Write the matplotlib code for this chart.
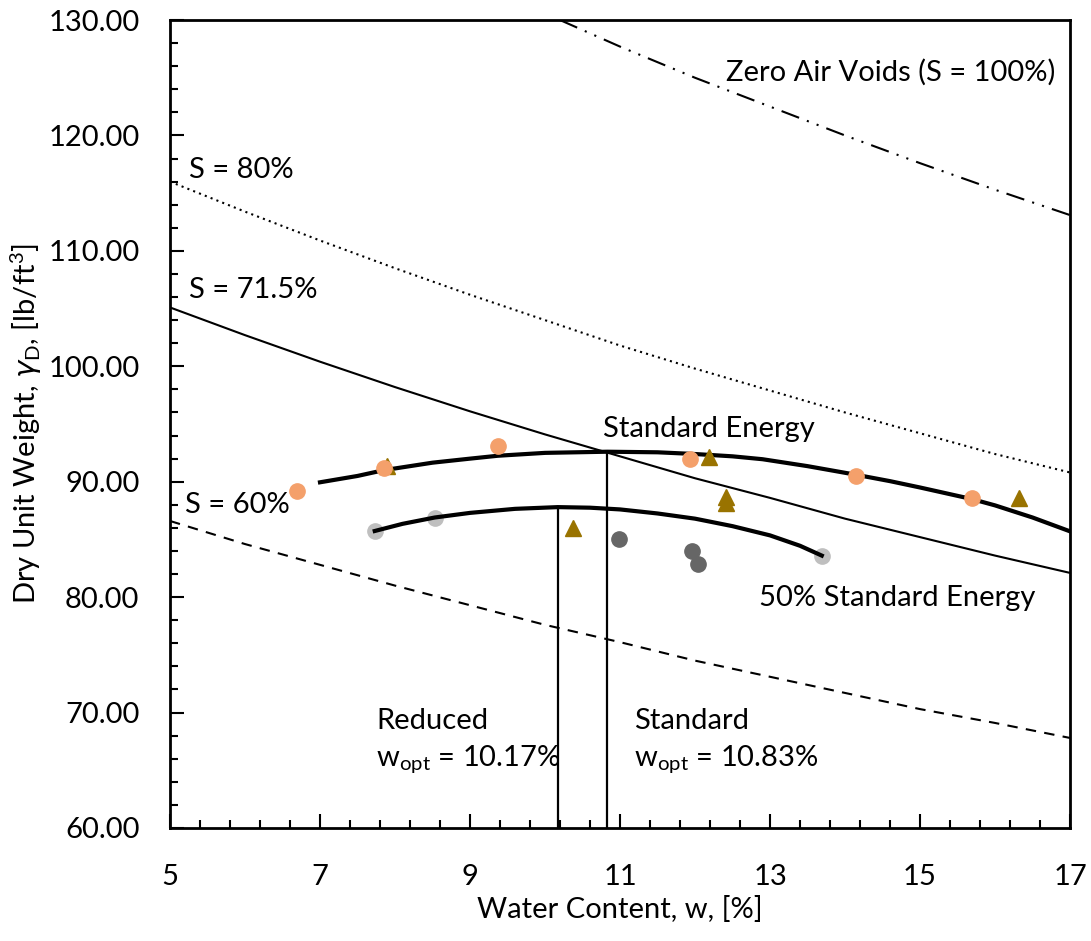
import matplotlib.pyplot as plt
from matplotlib.ticker import MultipleLocator, FormatStrFormatter

plt.rcParams['font.family'] = ['Lato', 'DejaVu Sans']

# measured points
std_w = [6.69, 7.85, 9.37, 11.93, 14.15, 15.69]
std_g = [89.2, 91.2, 93.1, 92.0, 90.5, 88.6]
tri_w = [7.89, 10.37, 12.19, 12.41, 12.41, 16.32]
tri_g = [91.4, 86.0, 92.1, 88.7, 88.2, 88.6]
red_w = [10.99, 11.96, 12.04]
red_g = [85.0, 84.0, 82.9]
red2_w = [7.73, 8.53, 13.69]
red2_g = [85.7, 86.9, 83.6]

# fitted compaction curves
fit_std_w = [7.0, 7.5, 7.85, 8.5, 9.0, 9.37, 10.0, 10.83, 11.5, 12.0, 12.5, 12.9, 13.5, 14.15, 14.6, 15.0, 15.69, 16.0, 16.5, 17.0]
fit_std_g = [89.95, 90.5, 91.0, 91.65, 92.0, 92.25, 92.5, 92.6, 92.55, 92.4, 92.2, 91.95, 91.35, 90.6, 90.05, 89.5, 88.5, 87.95, 86.9, 85.7]
fit_red_w = [7.73, 8.1, 8.53, 9.0, 9.6, 10.17, 10.6, 11.0, 11.5, 12.0, 12.5, 13.0, 13.4, 13.69]
fit_red_g = [85.73, 86.35, 86.9, 87.3, 87.65, 87.8, 87.75, 87.6, 87.25, 86.8, 86.15, 85.35, 84.45, 83.6]

# saturation lines (read at integer water contents)
sat_w = [5, 6, 7, 8, 9, 10, 11, 12, 13, 14, 15, 16, 17]
s80 = [116.0, 113.4, 110.9, 108.5, 106.2, 104.0, 101.8, 99.8, 97.9, 96.0, 94.2, 92.4, 90.8]
s715 = [105.1, 102.7, 100.4, 98.2, 96.1, 94.1, 92.2, 90.3, 88.6, 86.8, 85.2, 83.6, 82.1]
s60 = [86.6, 84.6, 82.8, 81.0, 79.3, 77.6, 76.1, 74.5, 73.1, 71.7, 70.3, 69.1, 67.8]
zav_w = [10.2, 11, 12, 13, 14, 15, 16, 17]
zav = [130.0, 127.7, 125.0, 122.5, 120.0, 117.6, 115.3, 113.1]

wopt_red, gmax_red = 10.17, 87.8
wopt_std, gmax_std = 10.83, 92.6

fig = plt.figure(figsize=(10.91, 9.41), dpi=100)
ax = fig.add_axes([0.1558, 0.1201, 0.825, 0.8586])

ax.plot(sat_w, s80, color='black', lw=1.5, ls=(0, (1, 2)))
ax.plot(sat_w, s715, color='black', lw=1.5)
ax.plot(sat_w, s60, color='black', lw=1.5, ls=(0, (5, 4)))
ax.plot(zav_w, zav, color='black', lw=1.5, ls=(0, (9, 4, 1, 4, 1, 4)))

ax.plot(fit_std_w, fit_std_g, color='black', lw=3, zorder=3)
ax.plot(fit_red_w, fit_red_g, color='black', lw=3, zorder=3)

ax.plot([wopt_red, wopt_red], [60, gmax_red], color='black', lw=1.6)
ax.plot([wopt_std, wopt_std], [60, gmax_std], color='black', lw=1.6)

ax.plot(red2_w, red2_g, 'o', color='#BFBFBF', ms=11, zorder=2)
ax.plot(red_w, red_g, 'o', color='#666666', ms=11, zorder=2)
ax.plot(tri_w, tri_g, '^', color='#997300', ms=11, zorder=4)
ax.plot(std_w, std_g, 'o', color='#F4A06B', ms=11, zorder=4)

fs = 21
ax.text(16.8, 125.5, 'Zero Air Voids (S = 100%)', fontsize=fs, ha='right', va='center')
ax.text(5.25, 117.0, 'S = 80%', fontsize=fs, va='center')
ax.text(5.25, 106.6, 'S = 71.5%', fontsize=fs, va='center')
ax.text(10.77, 94.6, 'Standard Energy', fontsize=fs, va='center')
ax.text(5.2, 88.0, 'S = 60%', fontsize=fs, va='center')
ax.text(12.85, 79.9, '50% Standard Energy', fontsize=fs, va='center')
ax.text(7.75, 69.3, 'Reduced', fontsize=fs, va='center')
ax.text(7.75, 65.9, r'w$_{\mathregular{opt}}$ = 10.17%', fontsize=fs, va='center')
ax.text(11.18, 69.3, 'Standard', fontsize=fs, va='center')
ax.text(11.18, 65.9, r'w$_{\mathregular{opt}}$ = 10.83%', fontsize=fs, va='center')

ax.set_xlim(5, 17)
ax.set_ylim(60, 130)
ax.xaxis.set_major_locator(MultipleLocator(2, offset=1))
ax.xaxis.set_minor_locator(MultipleLocator(0.4, offset=0.2))
ax.yaxis.set_major_locator(MultipleLocator(10))
ax.yaxis.set_minor_locator(MultipleLocator(2))
ax.yaxis.set_major_formatter(FormatStrFormatter('%.2f'))
ax.tick_params(which='both', direction='in', top=False, right=False, labelsize=fs, width=1.5)
ax.tick_params(axis='x', which='major', length=10, pad=26)
ax.tick_params(axis='y', which='major', length=10, pad=22)
ax.tick_params(which='minor', length=6)
for s in ax.spines.values():
    s.set_linewidth(2)

ax.set_xlabel('Water Content, w, [%]', fontsize=fs, labelpad=4)
ax.set_ylabel(r'Dry Unit Weight, $\gamma_{\mathregular{D}}$, [lb/ft$^{\mathregular{3}}$]', fontsize=fs, labelpad=3)

fig.savefig('out.png', dpi=100)
